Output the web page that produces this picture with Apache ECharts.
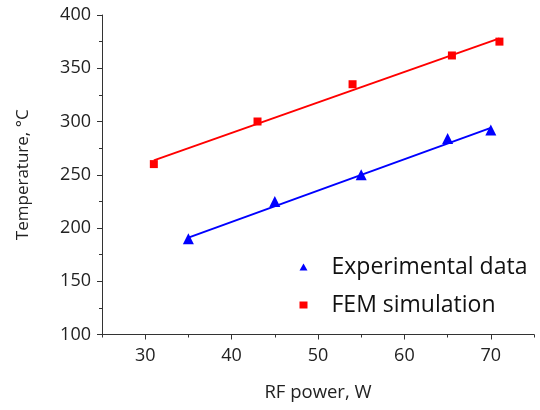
<!DOCTYPE html>
<html><head><meta charset="utf-8">
<script src="https://cdn.jsdelivr.net/npm/echarts@6/dist/echarts.min.js"></script>
<style>html,body{margin:0;padding:0;background:#fff}#c{width:540px;height:410px}</style>
</head><body><div id="c"></div>
<script>
var expX = [35, 45, 55, 65, 70];
var expY = [190, 225, 250, 284, 292];
var femX = [31, 43, 54, 65.5, 71];
var femY = [260, 300, 335, 362, 375];
var expFitX = [35, 70];
var expFitY = [191, 294];
var femFitX = [31, 71];
var femFitY = [263.5, 378];
var xTicks = [30, 40, 50, 60, 70];
var yTicks = [100, 150, 200, 250, 300, 350, 400];

function pairs(xs, ys){ return xs.map(function(x,i){return [x, ys[i]];}); }
var font = '"Open Sans", "Noto Sans", sans-serif';
var chart = echarts.init(document.getElementById('c'), null, {renderer:'canvas'});
chart.setOption({
  animation:false,
  backgroundColor:'#fff',
  grid:{left:102, right:6, top:15, bottom:75.5, containLabel:false},
  legend:{
    data:[{name:'Experimental data', icon:'triangle'},{name:'FEM simulation', icon:'rect'}],
    orient:'vertical', left:294.5, top:250, itemWidth:8, itemHeight:7, itemGap:14,
    textStyle:{fontFamily:font, fontSize:23, lineHeight:24, color:'#111', padding:[0,0,0,19]}
  },
  xAxis:[{
    type:'value', min:25, max:75, interval:5,
    name:'RF power, W', nameLocation:'middle', nameGap:49,
    nameTextStyle:{fontFamily:font, fontSize:18.5, color:'#222'},
    axisLine:{show:true, onZero:false, lineStyle:{color:'#333', width:1}},
    axisTick:{show:true, inside:false, length:3, lineStyle:{color:'#333'}},
    axisLabel:{fontFamily:font, fontSize:18, color:'#222', margin:12, customValues: xTicks},
    splitLine:{show:false}
  },{
    type:'value', min:25, max:75, position:'bottom',
    axisLine:{show:false, onZero:false},
    axisTick:{show:true, inside:false, length:5, lineStyle:{color:'#333'}, customValues: xTicks},
    axisLabel:{show:false},
    splitLine:{show:false}
  }],
  yAxis:{
    type:'value', min:100, max:400, interval:50,
    name:'Temperature, °C', nameLocation:'middle', nameGap:70, nameRotate:90,
    nameTextStyle:{fontFamily:font, fontSize:17, color:'#222'},
    axisLine:{show:true, onZero:false, lineStyle:{color:'#333', width:1}},
    axisTick:{show:true, inside:false, length:5, lineStyle:{color:'#333'}},
    minorTick:{show:true, splitNumber:2, length:3, lineStyle:{color:'#333'}},
    axisLabel:{fontFamily:font, fontSize:18, color:'#222', margin:11},
    splitLine:{show:false}
  },
  series:[
    {name:'FEM fit', type:'line', data:pairs(femFitX, femFitY), symbol:'none', lineStyle:{color:'#ff0000', width:2}, z:2},
    {name:'Exp fit', type:'line', data:pairs(expFitX, expFitY), symbol:'none', lineStyle:{color:'#0000ff', width:2}, z:2},
    {name:'Experimental data', type:'scatter', data:pairs(expX, expY), symbol:'triangle', symbolSize:11, itemStyle:{color:'#0000ff', opacity:1}, z:3},
    {name:'FEM simulation', type:'scatter', data:pairs(femX, femY), symbol:'rect', symbolSize:8, itemStyle:{color:'#ff0000', opacity:1}, z:3}
  ]
});
</script></body></html>
